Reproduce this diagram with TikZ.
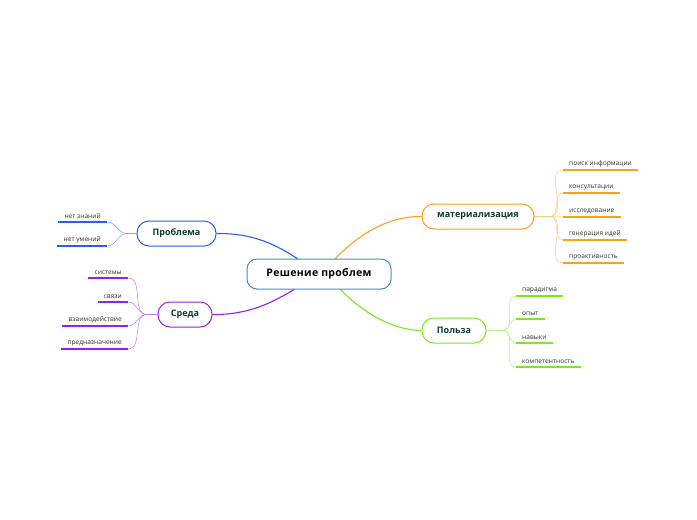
\documentclass[tikz,border=0pt]{standalone}
\usepackage{fontspec}
\setmainfont{Open Sans}
\usetikzlibrary{backgrounds}
\definecolor{cblue}{HTML}{2160F2}
\definecolor{cpurple}{HTML}{9B1FE8}
\definecolor{corange}{HTML}{F7A21B}
\definecolor{cgreen}{HTML}{7DE81C}
\definecolor{ccentral}{HTML}{3B8FD6}
\definecolor{ctext}{HTML}{0D3B2B}
\definecolor{cleaf}{HTML}{333333}
\begin{document}
\begin{tikzpicture}[x=1pt,y=-1pt,
  central/.style={draw=ccentral,line width=1pt,rounded corners=10pt,fill=white,minimum width=144pt,minimum height=30pt,font=\fontsize{10.5}{12}\selectfont\bfseries\addfontfeatures{LetterSpace=3},text=black},
  branch/.style={draw=#1,line width=1pt,rounded corners=12pt,fill=white,minimum height=25pt,font=\fontsize{9}{11}\selectfont\bfseries,text=ctext},
  leafR/.style={anchor=south west,inner xsep=6pt,inner ysep=3pt,font=\fontsize{6.6}{8}\selectfont,text=cleaf,append after command={\pgfextra{\draw[#1,line width=1.6pt] (\tikzlastnode.south west)--(\tikzlastnode.south east);}}},
  leafL/.style={anchor=south east,inner xsep=6pt,inner ysep=3pt,font=\fontsize{6.6}{8}\selectfont,text=cleaf,append after command={\pgfextra{\draw[#1,line width=1.6pt] (\tikzlastnode.south west)--(\tikzlastnode.south east);}}},
  main/.style={line width=1.1pt,#1},
  twig/.style={line width=0.5pt,#1!60},
]
\useasboundingbox (0,0) rectangle (697,520);

\node[central] (c) at (319,274) {Решение проблем};
\node[branch=cblue,minimum width=79pt] (p) at (176.5,233.5) {Проблема};
\node[branch=cpurple,minimum width=54pt] (s) at (185,314.5) {Среда};
\node[branch=corange,minimum width=112pt] (m) at (478,216.5) {материализация};
\node[branch=cgreen,minimum width=64pt] (b) at (454,330.5) {Польза};

\begin{pgfonlayer}{background}
\draw[main=cblue] (p.east) .. controls (255,233) and (278,246) .. (298,259);
\draw[main=cpurple] (s.east) .. controls (252,315) and (276,300) .. (295,289);
\draw[main=corange] (335,259) .. controls (355,238) and (385,216) .. (m.west);
\draw[main=cgreen] (340,289) .. controls (360,310) and (390,330) .. (b.west);
\end{pgfonlayer}

% leaves: Проблема
\node[leafL=cblue] (p1) at (107,222) {нет знаний};
\node[leafL=cblue] (p2) at (107,246) {нет умений};
\coordinate (ph) at (127,233.5);
\draw[twig=cblue] (p.west) -- (ph);
\foreach \l in {p1,p2} \draw[twig=cblue] (ph) to[out=180,in=0] (\l.south east);

% leaves: Среда
\node[leafL=cpurple] (s1) at (128,278) {системы};
\node[leafL=cpurple] (s2) at (128,302) {связи};
\node[leafL=cpurple] (s3) at (128,326) {взаимодействие};
\node[leafL=cpurple] (s4) at (128,349) {предназначение};
\coordinate (sh) at (147,314.5);
\draw[twig=cpurple] (s.west) -- (sh);
\foreach \l in {s1,s2,s3,s4} \draw[twig=cpurple] (sh) to[out=180,in=0] (\l.south east);

% leaves: материализация
\node[leafR=corange] (m1) at (563,170) {поиск информации};
\node[leafR=corange] (m2) at (563,193) {консультации};
\node[leafR=corange] (m3) at (563,217) {исследование};
\node[leafR=corange] (m4) at (563,240) {генерация идей};
\node[leafR=corange] (m5) at (563,263) {проактивность};
\coordinate (mh) at (550,216.5);
\draw[twig=corange] (m.east) -- (mh);
\foreach \l in {m1,m2,m3,m4,m5} \draw[twig=corange] (mh) to[out=0,in=180] (\l.south west);

% leaves: Польза
\node[leafR=cgreen] (b1) at (516,296) {парадигма};
\node[leafR=cgreen] (b2) at (516,319) {опыт};
\node[leafR=cgreen] (b3) at (516,343) {навыки};
\node[leafR=cgreen] (b4) at (516,367) {компетентность};
\coordinate (bh) at (503,330.5);
\draw[twig=cgreen] (b.east) -- (bh);
\foreach \l in {b1,b2,b3,b4} \draw[twig=cgreen] (bh) to[out=0,in=180] (\l.south west);
\end{tikzpicture}
\end{document}
